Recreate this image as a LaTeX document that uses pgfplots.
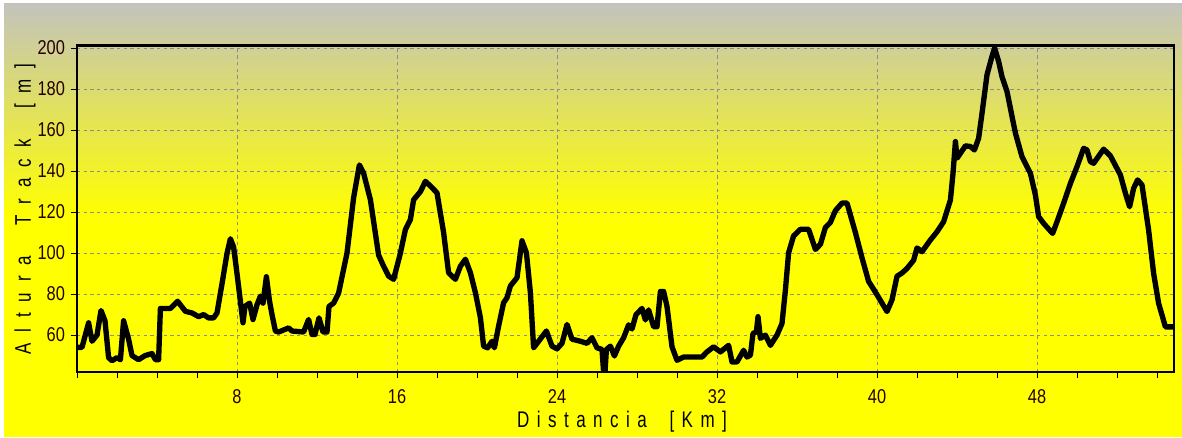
\documentclass[border=0pt]{standalone}
\usepackage{fontspec}
\setmainfont{Liberation Sans}
\newfontfamily\tickfont[FakeStretch=0.82]{Liberation Sans}
\newfontfamily\labfont[FakeStretch=0.75]{Liberation Sans}
\usepackage{pgfplots}
\pgfplotsset{compat=1.18}
\definecolor{topgray}{RGB}{195,195,190}
\definecolor{ylw}{RGB}{255,255,0}
\definecolor{gridgray}{RGB}{140,140,140}
\def\ls{\hspace{0.33em}}
\def\ws{\hspace{1.0em}}
\def\lsy{\hspace{0.48em}}
\def\wsy{\hspace{1.35em}}
\begin{document}
\begin{tikzpicture}
\useasboundingbox (0,0) rectangle (886.5pt,327.75pt);
\fill[white] (0,0) rectangle (886.5pt,327.75pt);
\fill[ylw] (3pt,0) rectangle (886.5pt,166pt);
\shade[top color=topgray, bottom color=ylw] (3pt,165.5pt) rectangle (886.5pt,325.5pt);
\begin{axis}[
  at={(57.75pt,48.75pt)}, anchor=south west,
  scale only axis, width=822.75pt, height=245.25pt,
  xmin=0, xmax=54.85, ymin=42, ymax=201.5,
  xtick={8,16,...,48}, minor xtick={0,2,...,54},
  ytick={60,80,...,200},
  tick pos=left, tick align=outside,
  major tick length=4.5pt, minor tick length=4.5pt,
  every tick/.style={black, line width=0.6pt},
  grid=major,
  major grid style={gridgray, line width=0.7pt, dash pattern=on 2.5pt off 2.5pt},
  axis line style={black, line width=1.6pt},
  /pgf/number format/assume math mode=true,
  ticklabel style={font=\tickfont\fontsize{15}{15}\selectfont, text=black!85!red},
  xticklabel style={yshift=-5pt},
  yticklabel style={xshift=-1pt},
]
\addplot[black, line width=4pt, line join=round, line cap=round] coordinates {
(0,54) (0.25,54) (0.58,66) (0.75,57) (1.0,60) (1.2,72) (1.4,67) (1.58,49) (1.75,47.5) (2.0,49) (2.17,48) (2.33,67) (2.58,58) (2.75,50) (3.08,48) (3.4,50) (3.75,51) (3.92,48) (4.08,48) (4.17,73) (4.67,73) (5.03,76.5) (5.42,71.6) (5.75,70.8) (6.08,69) (6.33,70) (6.58,68.4) (6.83,68.4) (7.0,70.8) (7.25,85) (7.5,99.8) (7.67,107) (7.83,103) (8.0,90) (8.2,74) (8.3,66) (8.4,74) (8.63,75.6) (8.8,67.6) (9.0,74.8) (9.17,79) (9.3,75.6) (9.47,88.5) (9.62,77) (9.75,70) (9.92,62) (10.08,61.5) (10.58,63.5) (10.75,62) (11.33,61.5) (11.58,67.6) (11.75,60.3) (11.9,60.3) (12.1,68.4) (12.3,61.5) (12.5,61.5) (12.6,74) (12.83,75.6) (13.08,80.5) (13.5,100) (13.83,127) (14.12,143)
(14.33,139) (14.67,126) (15.08,99) (15.33,93.6) (15.58,88.8) (15.83,87.2) (16.17,100) (16.42,111.5) (16.67,116.4) (16.83,126) (17.17,130) (17.42,135) (17.67,132.7) (18.0,129.4) (18.33,110) (18.58,90.4) (18.75,88.8) (18.92,87.2) (19.17,93.6) (19.42,97) (19.67,90.4) (19.92,80.7) (20.17,68.5) (20.33,54.6) (20.53,53.8) (20.75,57) (20.87,53.8) (21.08,64.4) (21.33,75.8) (21.5,78.2) (21.67,84) (22.0,88) (22.25,106) (22.47,100.2) (22.67,80.6) (22.83,53.8) (23.08,57) (23.47,62) (23.75,54.6) (24.0,53.3) (24.25,56) (24.5,65.2) (24.75,58) (25.17,57) (25.5,56) (25.75,58.7) (26.0,53.8) (26.25,53) (26.33,42) (26.4,42) (26.47,53) (26.67,54.6) (26.87,49.8) (27.08,54.6) (27.33,58.7) (27.58,65) (27.75,63) (27.95,70)
(28.25,73) (28.42,67.4) (28.58,72.3) (28.83,64.1) (29.0,64.1) (29.17,81.3) (29.33,81.3) (29.5,74) (29.75,54.3) (30.0,47.7) (30.33,49.3) (31.25,49.3) (31.5,51.8) (31.83,54.3) (32.17,51.8) (32.58,55) (32.75,46.9) (33.0,46.9) (33.33,52.6) (33.5,49.3) (33.67,50.2) (33.8,60.8) (33.97,61.6) (34.05,69) (34.17,58.4) (34.42,60) (34.67,55) (35.0,60) (35.25,65.7) (35.42,82) (35.58,100.2) (35.83,108.4) (36.17,111.6) (36.58,111.6) (36.92,101.8) (37.17,104.3) (37.42,112.5) (37.67,115) (37.92,120.7) (38.25,124.4) (38.5,124.4) (38.92,110) (39.25,97.7) (39.58,86.2) (40.0,79.7) (40.5,71.5) (40.75,77.2) (41.0,88.7) (41.25,90.3) (41.5,92.5) (41.83,96.5) (42.0,102.5)
(42.25,100.7) (42.67,106.4) (43.0,110.4) (43.33,115.3) (43.67,125.9) (43.8,138.9) (43.92,154.4) (44.0,146.3) (44.17,148.7) (44.42,152.3) (44.67,152) (44.87,150.3) (45.08,156) (45.25,168.2) (45.5,187) (45.75,196) (45.88,200) (46.08,193.5) (46.25,186) (46.5,178.8) (46.92,158.5) (47.25,147) (47.67,138.9) (47.92,128.3) (48.08,117.8) (48.33,114.5) (48.78,109.6) (49.0,115.3) (49.33,124.3) (49.67,134) (50.0,142.2) (50.33,151.1) (50.5,150.3) (50.67,144.6) (50.83,143.8) (51.33,150.7) (51.67,147.4) (52.17,138.1) (52.42,129.2) (52.63,122.6) (52.83,131.6) (53.03,135.7) (53.25,133.2) (53.58,111.2) (53.83,90.1) (54.08,75.5) (54.42,64) (54.85,64)
};
\draw[black, line width=3pt] (rel axis cs:0,1) -- (rel axis cs:1,1);
\end{axis}
\node[anchor=center, inner sep=0pt] at (466.5pt,11.3pt) {\labfont\fontsize{17}{18}\selectfont D\ls i\ls s\ls t\ls a\ls n\ls c\ls i\ls a\ws[\ls K\ls m\ls ]};
\node[anchor=center, inner sep=0pt, rotate=90] at (18.75pt,171pt) {\labfont\fontsize{17}{18}\selectfont A\lsy l\lsy t\lsy u\lsy r\lsy a\wsy T\lsy r\lsy a\lsy c\lsy k\wsy[\lsy m\lsy ]};
\end{tikzpicture}
\end{document}
